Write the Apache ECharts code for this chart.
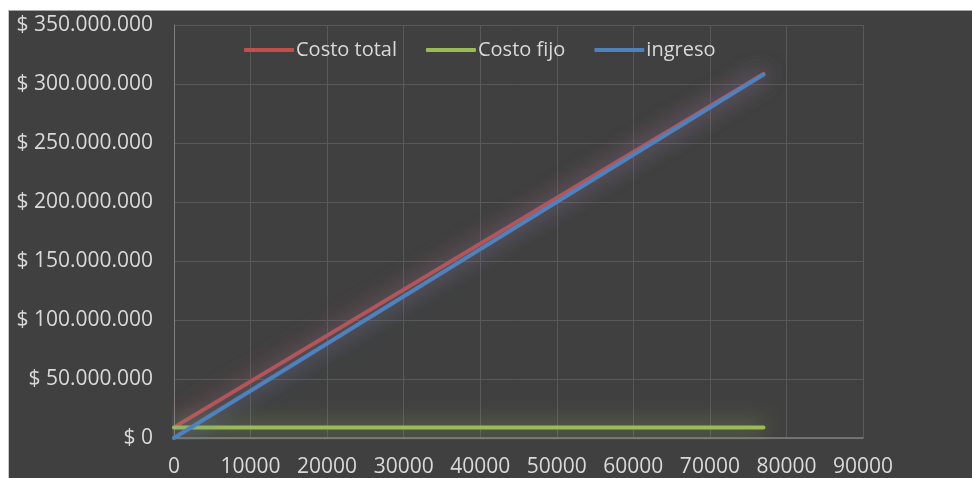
<!DOCTYPE html>
<html>
<head>
<meta charset="utf-8">
<script src="https://cdn.jsdelivr.net/npm/echarts@6/dist/echarts.min.js"></script>
<style>
    html, body { margin: 0; padding: 0; background: #fff; width: 972px; height: 478px; overflow: hidden; }
    #chart {
        position: absolute;
        left: 8px;
        top: 10px;
        width: 963px;
        height: 467px;
        border-top: 1px solid #a6a6a6;
        border-left: 1px solid #c8c8c8;
        background: #404040;
    }
</style>
</head>
<body>
<div id="chart"></div>
<script>
    var unidades = [0, 77000];
    var costoTotal = [9000000, 308500000];
    var costoFijo = [9000000, 9000000];
    var ingreso = [0, 308000000];

    function pares(xs, ys) {
        var out = [];
        for (var i = 0; i < xs.length; i++) {
            out.push([xs[i], ys[i]]);
        }
        return out;
    }

    function money(v) {
        var s = String(Math.round(v)).replace(/\B(?=(\d{3})+(?!\d))/g, '.');
        return '$ ' + s;
    }

    function linea(name, color, data, z) {
        return {
            name: name,
            type: 'line',
            data: data,
            symbol: 'none',
            z: z,
            lineStyle: {
                color: color,
                width: 4,
                cap: 'round',
                shadowColor: color,
                shadowBlur: 22
            },
            itemStyle: { color: color }
        };
    }

    var myChart = echarts.init(document.getElementById('chart'));
    var option = {
        backgroundColor: '#404040',
        animation: false,
        textStyle: { fontFamily: 'Open Sans' },
        legend: {
            top: 24,
            left: 230,
            itemWidth: 50,
            itemHeight: 4,
            itemGap: 29,
            icon: 'roundRect',
            textStyle: { color: '#d9d9d9', fontSize: 20, fontFamily: 'Open Sans', padding: [0, 0, 0, -3] },
            data: ['Costo total', 'Costo fijo', 'ingreso']
        },
        grid: {
            left: 165,
            top: 14,
            right: 109,
            bottom: 40
        },
        xAxis: {
            type: 'value',
            min: 0,
            max: 90000,
            interval: 10000,
            axisLine: { show: true, lineStyle: { color: '#7f7f7f', width: 1.5 } },
            axisTick: { show: false },
            axisLabel: { color: '#d9d9d9', fontSize: 21, margin: 19, fontFamily: 'Open Sans', formatter: function (v) { return String(v); } },
            splitLine: { show: true, lineStyle: { color: '#595959', width: 1 } }
        },
        yAxis: {
            type: 'value',
            min: 0,
            max: 350000000,
            interval: 50000000,
            axisLine: { show: true, lineStyle: { color: '#7f7f7f', width: 1 } },
            axisTick: { show: false },
            axisLabel: { color: '#d9d9d9', fontSize: 21, margin: 21, formatter: money, fontFamily: 'Open Sans' },
            splitLine: { show: true, lineStyle: { color: '#595959', width: 1 } }
        },
        series: [
            linea('Costo total', '#c0504d', pares(unidades, costoTotal), 2),
            linea('Costo fijo', '#9bbb59', pares(unidades, costoFijo), 3),
            linea('ingreso', '#4f81bd', pares(unidades, ingreso), 4)
        ]
    };
    myChart.setOption(option);
</script>
</body>
</html>
